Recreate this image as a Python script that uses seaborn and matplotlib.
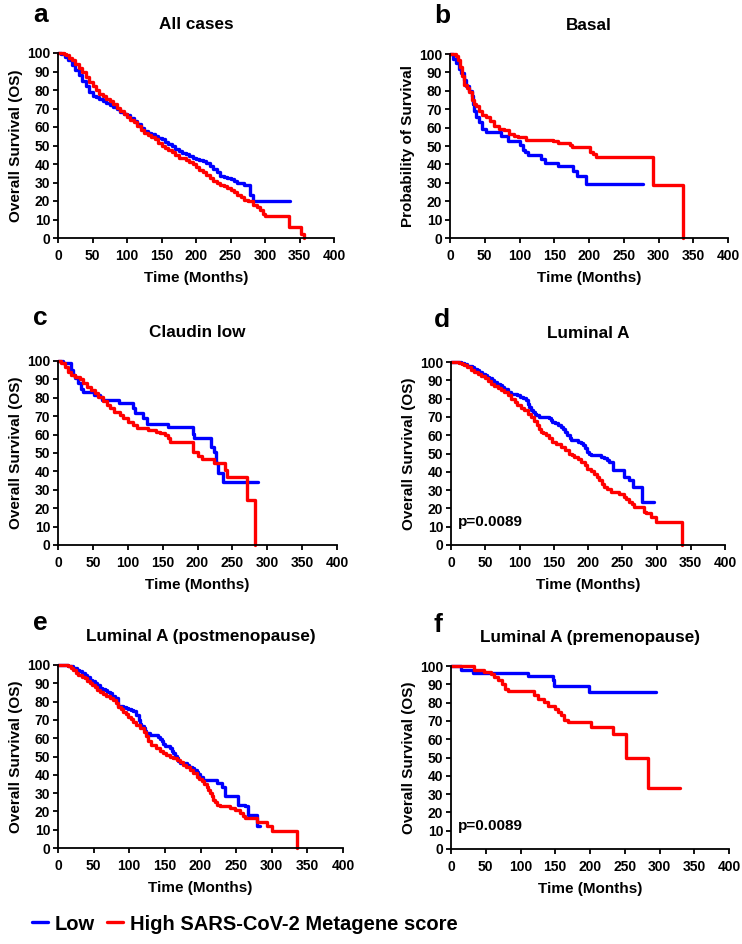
import matplotlib
matplotlib.use("Agg")
import matplotlib.pyplot as plt
from matplotlib import font_manager as fm
import seaborn as sns

# Kaplan-Meier curves: (months, % surviving), drawn as post steps
a_low = [(0, 100), (5, 99.5), (10, 98), (15, 96), (20, 93.5), (25, 91), (30, 88), (35, 85), (40, 82),
         (45, 79), (50, 77), (55, 76), (60, 75), (65, 74), (70, 73), (75, 72), (80, 71), (85, 69.5),
         (90, 68), (95, 67), (100, 66.5), (105, 65), (110, 63.5), (115, 61.5), (120, 59.5), (125, 58),
         (130, 57), (135, 56), (140, 55), (145, 54), (150, 53.5), (155, 52), (160, 51), (165, 50),
         (170, 48), (175, 47), (180, 46), (185, 45.5), (190, 44.5), (195, 43.5), (200, 42.5), (205, 42),
         (210, 41.5), (215, 40.5), (220, 39), (225, 37.5), (230, 35.5), (235, 33.5), (240, 33),
         (245, 32.5), (250, 32), (255, 31), (260, 30), (265, 29.5), (270, 28.5), (278, 23.5),
         (283, 20), (336, 20)]
a_high = [(0, 100), (8, 99.5), (12, 99), (16, 97.5), (20, 96), (25, 94), (30, 92), (35, 90), (40, 87),
          (45, 84.5), (50, 82), (55, 80), (60, 78), (65, 76.5), (70, 75), (75, 74), (80, 72.5),
          (85, 70.5), (90, 68.5), (95, 67), (100, 65.5), (105, 64), (110, 62.5), (115, 60.5),
          (120, 58.5), (125, 57), (130, 55.5), (135, 54.5), (140, 53.5), (145, 51.5), (150, 50),
          (155, 48.5), (160, 47.5), (165, 46.5), (170, 45), (175, 43.5), (180, 43), (185, 42),
          (190, 41), (195, 40), (200, 38.5), (205, 37), (210, 35.5), (215, 34), (220, 32.5),
          (225, 31), (230, 29.5), (235, 28.5), (240, 28), (245, 27), (250, 26), (255, 25),
          (260, 23.5), (265, 22), (270, 20.5), (275, 20), (283, 18), (288, 17), (293, 15), (297, 13),
          (300, 12), (335, 6), (352, 2.3), (356, 0)]

b_low = [(0, 100), (5, 97.5), (9, 95), (13, 92), (16, 89.7), (20, 86), (23, 82.4), (28, 80), (31, 77),
         (33, 73), (35, 69), (38, 66), (42, 63), (46, 59.4), (52, 57.5), (73, 55.5), (84, 52.5),
         (100, 50.5), (105, 48), (108, 46.5), (112, 45), (131, 43), (136, 41), (155, 39), (177, 36.5),
         (183, 33.5), (195, 29.5), (277.5, 29.5)]
b_high = [(0, 100), (8, 99), (12, 97), (15, 93), (17, 88), (20, 83), (25, 81.5), (28, 79.5), (32, 75),
          (35, 73), (38, 71.5), (42, 69), (46, 67), (52, 66), (57, 63.5), (64, 61), (71, 59.5),
          (78, 58.5), (85, 56.5), (92, 55.5), (98, 55), (109, 53.5), (148, 52.5), (155, 51.5),
          (172, 50.3), (175, 49.2), (202, 47), (206, 45.5), (210, 43.8), (292, 29), (335, 0)]

c_low = [(0, 100), (7, 98.7), (19, 95), (22, 92.5), (25, 90.5), (29, 88), (33, 85), (36, 83.3),
         (52, 81.5), (60, 80.5), (63, 78.8), (88, 77), (108, 74.3), (111, 71.6), (122, 68.8),
         (127, 66), (158, 64.3), (193, 60.5), (195, 58), (220, 53.4), (223, 50.7), (227, 44.5),
         (229, 39), (237, 34.4), (287, 34.4)]
c_high = [(0, 100), (5, 99), (10, 97), (14, 94), (19, 92.4), (25, 91.5), (31, 90), (36, 88), (41, 86),
          (48, 84), (53, 82.4), (58, 80.6), (65, 78), (70, 76), (74, 74.3), (81, 72.5), (89, 70.7),
          (93, 68.8), (101, 67), (108, 65.2), (113, 63.4), (129, 62.5), (141, 61.6), (146, 60.7),
          (153, 59.8), (158, 58), (161, 56), (193, 53.4), (194, 50.7), (201, 48.5), (206, 46.5),
          (223, 44.4), (240, 40.7), (242, 37), (271, 24.3), (282.6, 0)]

d_low = [(0, 100), (15, 99.5), (19, 99), (23, 98), (27, 97.6), (31, 97), (34, 96.4), (38, 95.5),
         (41, 94.5), (45, 93.5), (49, 92.7), (53, 92), (56, 91), (60, 90), (63, 89), (67, 88),
         (71, 87.3), (75, 86.5), (78, 85.5), (83, 83.6), (88, 82.4), (97, 81.8), (101, 81),
         (105, 80.5), (109, 79), (112, 77), (114, 75.5), (117, 74), (119, 72.7), (122, 71.8),
         (124, 71), (129, 70), (143, 69.6), (146, 68.5), (148, 67.3), (152, 66.4), (156, 65.5),
         (160, 64.5), (163, 63.6), (167, 62), (170, 60), (173, 58.5), (175, 57.3), (185, 56.4),
         (190, 55.5), (193, 54.5), (196, 53), (199, 51), (202, 50), (204, 49), (219, 48.2),
         (224, 47.3), (228, 46.4), (231, 45.5), (236, 40.9), (253, 37.3), (260, 35.5), (265, 31.8),
         (279.5, 23.6), (296.5, 23.6)]
d_high = [(0, 100), (12, 99.5), (16, 99), (19, 98.2), (24, 97), (29, 95.5), (34, 94.5), (39, 93.6),
          (44, 92.3), (49, 91), (54, 89.5), (58, 88.2), (63, 87), (68, 86), (73, 84.8), (78, 83.6),
          (83, 81.8), (88, 80), (93, 78.2), (97, 76.4), (102, 75), (107, 73.6), (112, 71.8),
          (117, 70), (121, 67.8), (126, 65.5), (129, 63.5), (131, 61.8), (135, 61), (139, 60),
          (143, 58.2), (148, 56.4), (154, 55), (160, 53.6), (166, 51.8), (172, 50), (176, 49),
          (180, 48.2), (185, 46.8), (190, 45.5), (195, 43.6), (199, 41.8), (204, 40.4), (209, 39),
          (213, 37.3), (216, 35.5), (220, 33.6), (224, 31.8), (228, 30.4), (233, 29), (245, 28),
          (253, 26.4), (256, 25), (260, 23.6), (264, 22.2), (267, 20.9), (282, 18.2), (285, 17.3),
          (292, 15.5), (299, 12.7), (337, 0)]

e_low = [(0, 100), (14, 99.3), (21, 98.5), (26, 97.5), (30, 96.7), (34, 95.6), (37.5, 94.5),
         (41, 93.2), (44.5, 91.8), (48, 91), (51.6, 90), (55, 88.8), (58.6, 87.6), (62, 87),
         (65.6, 86.4), (69, 85.5), (72.7, 84.5), (76, 83.2), (80, 81.8), (84, 77.6), (91, 77.3),
         (95, 76.6), (98.5, 76), (102, 75.5), (105.5, 74.9), (110, 72.7), (113, 70), (115, 68),
         (117, 66.8), (120, 65.5), (122, 64), (124, 62.7), (129, 61.8), (141, 60.9), (143, 59.5),
         (145.4, 58.2), (148, 57), (150, 55.5), (157, 54.5), (160, 53), (162, 51.8), (164, 50.5),
         (166.5, 49), (169, 47.7), (171, 46.4), (180.5, 45.5), (184, 44.5), (187.6, 43.6),
         (191, 42.7), (194.6, 41.8), (197, 40.4), (199, 39), (204, 37.3), (222.7, 35.5),
         (229.8, 33.6), (234.5, 28.2), (253, 23.6), (262.6, 22.7), (267, 18.2), (279, 11.8),
         (283.7, 11.8)]
e_high = [(0, 100), (14, 99.5), (18, 98.5), (21, 97.3), (25, 95.8), (28, 94.5), (33, 93.6),
          (37.5, 92.7), (41, 91.4), (44.5, 90), (48, 88.9), (51.6, 87.8), (55, 86.6), (58.6, 85.5),
          (63, 84.4), (68, 83.3), (73, 82.1), (77.4, 81), (81, 79.1), (84.4, 77.3), (88, 75.9),
          (91.4, 74.5), (95, 73.1), (98.5, 71.8), (102, 70.4), (105.5, 69), (110, 67.3), (115, 65.5),
          (120, 63.2), (124, 61), (127, 58.7), (131, 56.4), (138, 54.5), (143, 53.2), (147.7, 51.8),
          (152, 50.9), (157, 50), (162, 49.1), (166.5, 48.2), (171, 46.8), (175.8, 45.5),
          (180, 44.1), (185, 42.7), (190, 40.9), (194.6, 39), (198, 37.7), (201.6, 36.4), (205, 35),
          (208.7, 33.6), (211, 31.8), (213.4, 30), (216, 28.2), (218, 26.4), (220, 25),
          (222.7, 23.6), (227.4, 22.7), (241.5, 21.8), (248.5, 20.9), (255.6, 19), (259, 17.7),
          (262.6, 16.4), (279, 14), (293, 11.8), (300, 9.5), (335.3, 0)]

f_low = [(0, 100), (14.4, 98), (31, 96.2), (110.4, 94.4), (146.5, 92.2), (148, 89), (199, 85.8),
         (295.3, 85.8)]
f_high = [(0, 100), (33.6, 98), (48, 96.7), (57.6, 95.4), (62, 94), (67, 92.2), (73, 90.4),
          (77, 87.6), (82, 86.4), (120, 84), (125, 81.8), (134.5, 80.4), (139, 78), (149, 76.7),
          (153.7, 75), (158.5, 73), (163, 70.4), (168, 69.5), (201, 66.7), (233, 63), (252, 50),
          (283, 33.6), (329, 33.6)]

letters = ["a", "b", "c", "d", "e", "f"]
titles = ["All cases", "Basal", "Claudin low", "Luminal A",
          "Luminal A (postmenopause)", "Luminal A (premenopause)"]
ylabels = ["Overall Survival (OS)", "Probability of Survival", "Overall Survival (OS)",
           "Overall Survival (OS)", "Overall Survival (OS)", "Overall Survival (OS)"]
low_series = [a_low, b_low, c_low, d_low, e_low, f_low]
high_series = [a_high, b_high, c_high, d_high, e_high, f_high]
p_labels = [None, None, None, "p=0.0089", None, "p=0.0089"]
group_names = ["Low", "High SARS-CoV-2 Metagene score"]

W, H = 742, 944
# axes boxes in pixels: left, right, top, bottom
boxes = [(58, 334, 53, 238), (450, 728, 54, 238),
         (58, 337, 361, 545), (451, 725, 362, 545),
         (58, 343, 665, 848), (451, 729, 666, 849)]
letter_pos = [(33, 22), (434, 23), (33, 325), (434, 327), (33, 630), (434, 632)]

sns.set_style("ticks")
plt.rcParams["font.family"] = ["Liberation Sans", "DejaVu Sans"]
plt.rcParams["font.weight"] = "bold"
plt.rcParams["axes.labelweight"] = "bold"
plt.rcParams["axes.titleweight"] = "bold"
for key in ["text.color", "axes.labelcolor", "xtick.color", "ytick.color", "axes.edgecolor"]:
    plt.rcParams[key] = "black"

fig = plt.figure(figsize=(W / 100, H / 100), dpi=100)

for i, (l, r, t, b) in enumerate(boxes):
    ax = fig.add_axes([l / W, 1 - b / H, (r - l) / W, (b - t) / H])
    for data, col, name in [(low_series[i], "#0000ff", group_names[0]),
                            (high_series[i], "#ff0000", group_names[1])]:
        tt, ss = zip(*data)
        sns.lineplot(x=list(tt), y=list(ss), ax=ax, color=col, linewidth=2.4,
                     drawstyle="steps-post", estimator=None, sort=False,
                     legend=False, label=name, clip_on=False)
    ax.set_xlim(0, 400)
    ax.set_ylim(0, 100)
    ax.set_xticks(range(0, 401, 50))
    ax.set_yticks(range(0, 101, 10))
    sns.despine(ax=ax)
    for sp in ["left", "bottom"]:
        ax.spines[sp].set_linewidth(1.3)
    ax.tick_params(direction="out", length=3.6, width=1.3, labelsize=10, pad=2)
    ax.tick_params(axis="x", pad=4.5)
    ax.set_xlabel("Time (Months)", fontsize=11, labelpad=5.5)
    ax.set_ylabel(ylabels[i], fontsize=11, labelpad=3)
    ax.set_title(titles[i], fontsize=12.3, pad=17)
    if p_labels[i]:
        ax.text(10, 12.5, p_labels[i], fontsize=11, fontweight="bold", va="center")
    lx, ly = letter_pos[i]
    fig.text(lx / W, 1 - ly / H, letters[i], fontsize=19, fontweight="bold", va="baseline")
    if i == 0:
        handles = ax.get_lines()[:2]

names = {f.name for f in fm.fontManager.ttflist}
if "Liberation Sans Narrow" in names:
    leg_font = {"family": "Liberation Sans Narrow", "weight": "bold", "size": 17.5}
else:
    leg_font = {"family": "Liberation Sans", "weight": "bold", "size": 14.5}

fig.legend(handles, group_names, loc="center", bbox_to_anchor=(245 / W, 1 - 924 / H),
           ncol=2, frameon=False, prop=leg_font, handlelength=0.8,
           handletextpad=0.35, columnspacing=0.6)

fig.savefig("out.png", dpi=100)
